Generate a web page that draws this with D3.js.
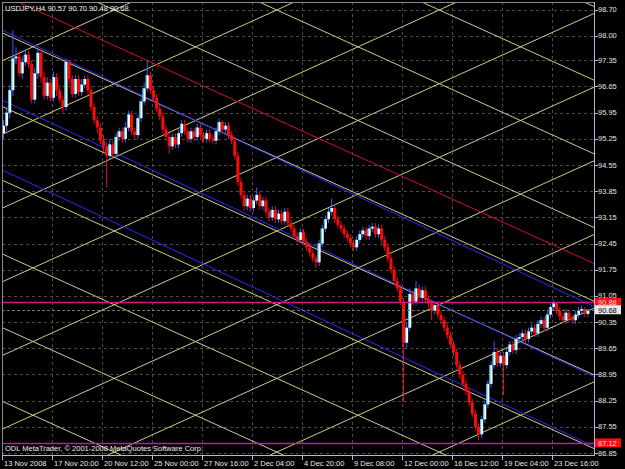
<!DOCTYPE html>
<html>
<head>
<meta charset="utf-8">
<script src="https://d3js.org/d3.v7.min.js"></script>
<style>
body { margin: 0; background: #000; }
svg { display: block; }
text { font-family: Tahoma, 'Liberation Sans', Arial, sans-serif; font-size: 7.5px; }
</style>
</head>
<body>
<div id="chart"></div>
<script>
var width = 625,
	height = 469;

// USDJPY H4 bars, bar 0 = 13 Nov 2008
var open = [95.40,95.60,95.95,96.55,97.40,97.45,97.00,97.30,97.50,97.25,
	96.30,97.00,97.55,96.90,96.40,96.75,96.35,96.90,96.55,96.30,
	96.10,97.30,96.85,96.45,96.85,96.50,96.70,96.85,96.55,96.10,
	95.75,95.55,95.20,95.05,94.80,95.10,94.85,95.30,95.45,95.25,
	95.55,95.90,95.45,95.35,95.80,96.25,96.60,96.95,96.55,96.35,
	96.05,95.85,95.50,95.30,95.05,95.30,95.10,95.40,95.65,95.45,
	95.25,95.45,95.30,95.55,95.35,95.25,95.40,95.25,95.20,95.45,
	95.70,95.50,95.60,95.35,95.20,94.80,94.10,93.75,93.45,93.65,
	93.40,93.60,93.75,93.45,93.60,93.30,93.15,93.35,93.10,93.25,
	93.05,93.30,93.00,92.85,92.65,92.55,92.75,92.50,92.35,92.20,
	92.05,91.95,92.45,92.85,93.10,93.30,93.40,93.10,92.95,92.85,
	92.70,92.60,92.45,92.35,92.55,92.70,92.80,92.65,92.85,92.90,
	92.70,92.85,92.55,92.35,92.05,91.75,91.45,91.25,90.90,89.80,
	90.20,91.10,90.90,91.25,91.00,91.20,90.95,90.85,90.65,90.80,
	90.55,90.40,90.20,90.00,89.75,89.55,89.20,88.95,88.70,88.50,
	88.20,87.90,87.55,87.35,87.75,88.15,88.70,89.20,89.55,89.25,
	89.45,89.20,89.55,89.75,89.60,89.90,89.95,90.05,89.90,90.10,
	90.20,90.05,90.30,90.40,90.20,90.55,90.75,90.85,90.65,90.50,
	90.40,90.60,90.45,90.40,90.55,90.65,90.70,90.57];

var high = [95.75,96.10,96.70,98.15,97.70,97.60,97.45,97.65,97.60,97.35,
	97.15,97.70,97.65,97.05,96.90,96.85,97.05,97.00,96.70,96.40,
	97.40,97.35,96.95,96.95,96.95,96.85,96.95,96.95,96.65,96.20,
	95.85,95.65,95.35,95.15,95.25,95.20,95.40,95.55,95.55,95.70,
	96.00,96.00,95.55,95.90,96.35,96.75,97.35,97.05,96.65,96.45,
	96.15,95.95,95.60,95.40,95.40,95.40,95.50,95.75,95.75,95.55,
	95.55,95.55,95.65,95.65,95.45,95.50,95.50,95.35,95.55,95.80,
	95.75,95.70,95.70,95.45,95.30,94.90,94.20,93.85,93.75,93.75,
	93.70,93.95,93.85,93.70,93.70,93.40,93.45,93.45,93.35,93.35,
	93.40,93.40,93.10,92.95,92.75,92.85,92.85,92.60,92.45,92.30,
	92.15,92.55,92.95,93.20,93.40,93.65,93.50,93.20,93.05,92.95,
	92.80,92.70,92.55,92.65,92.80,92.90,92.90,92.95,93.00,93.00,
	92.95,92.95,92.65,92.45,92.15,91.85,91.55,91.35,91.00,90.35,
	91.25,91.20,91.45,91.35,91.30,91.30,91.05,90.95,90.90,90.90,
	90.65,90.50,90.30,90.10,89.85,89.65,89.30,89.05,88.80,88.60,
	88.30,88.00,87.65,87.85,88.25,88.80,89.30,89.85,89.65,89.55,
	89.55,89.65,89.85,89.85,90.00,90.05,90.15,90.15,90.20,90.30,
	90.30,90.40,90.50,90.50,90.65,90.85,90.95,90.90,90.75,90.60,
	90.70,90.65,90.55,90.65,90.75,90.80,90.75,90.70];

var low = [95.25,95.45,95.80,96.40,97.25,96.90,96.85,97.20,97.15,96.20,
	96.20,96.85,96.75,96.30,96.30,96.25,96.25,96.40,96.20,95.95,
	96.00,96.70,96.35,96.35,96.40,96.40,96.60,96.45,96.00,95.65,
	95.40,95.10,94.90,93.95,94.70,94.75,94.75,95.20,95.15,95.15,
	95.45,95.35,95.25,95.25,95.70,96.15,96.50,96.45,96.25,95.95,
	95.75,95.40,95.20,94.85,94.95,95.00,95.00,95.30,95.35,95.15,
	95.15,95.20,95.20,95.25,95.15,95.15,95.15,95.10,95.10,95.35,
	95.40,95.40,95.25,95.10,94.70,94.00,93.65,93.35,93.35,93.30,
	93.30,93.50,93.35,93.35,93.20,93.05,93.05,93.00,93.00,92.95,
	92.95,92.90,92.75,92.55,92.45,92.45,92.40,92.25,92.10,91.95,
	91.80,91.85,92.35,92.75,93.00,93.20,93.00,92.85,92.75,92.60,
	92.50,92.35,92.25,92.25,92.45,92.60,92.55,92.55,92.75,92.60,
	92.60,92.45,92.25,91.95,91.65,91.35,91.15,90.80,88.20,89.65,
	90.10,90.80,90.80,90.90,90.90,90.85,90.75,90.40,90.55,90.45,
	90.30,90.10,89.90,89.65,89.45,89.10,88.85,88.60,88.40,88.10,
	87.80,87.45,87.20,87.25,87.65,88.05,88.60,89.10,89.15,89.15,
	88.40,89.10,89.45,89.50,89.50,89.80,89.85,89.80,89.80,90.00,
	89.95,89.95,90.20,90.10,90.10,90.45,90.65,90.55,90.40,90.30,
	90.30,90.35,90.30,90.30,90.45,90.55,90.48,90.48];

var close = [95.60,95.95,96.55,97.40,97.45,97.00,97.30,97.50,97.25,96.30,
	97.00,97.55,96.90,96.40,96.75,96.35,96.90,96.55,96.30,96.10,
	97.30,96.85,96.45,96.85,96.50,96.70,96.85,96.55,96.10,95.75,
	95.55,95.20,95.05,94.80,95.10,94.85,95.30,95.45,95.25,95.55,
	95.90,95.45,95.35,95.80,96.25,96.60,96.95,96.55,96.35,96.05,
	95.85,95.50,95.30,95.05,95.30,95.10,95.40,95.65,95.45,95.25,
	95.45,95.30,95.55,95.35,95.25,95.40,95.25,95.20,95.45,95.70,
	95.50,95.60,95.35,95.20,94.80,94.10,93.75,93.45,93.65,93.40,
	93.60,93.75,93.45,93.60,93.30,93.15,93.35,93.10,93.25,93.05,
	93.30,93.00,92.85,92.65,92.55,92.75,92.50,92.35,92.20,92.05,
	91.95,92.45,92.85,93.10,93.30,93.40,93.10,92.95,92.85,92.70,
	92.60,92.45,92.35,92.55,92.70,92.80,92.65,92.85,92.90,92.70,
	92.85,92.55,92.35,92.05,91.75,91.45,91.25,90.90,89.80,90.20,
	91.10,90.90,91.25,91.00,91.20,90.95,90.85,90.65,90.80,90.55,
	90.40,90.20,90.00,89.75,89.55,89.20,88.95,88.70,88.50,88.20,
	87.90,87.55,87.35,87.75,88.15,88.70,89.20,89.55,89.25,89.45,
	89.20,89.55,89.75,89.60,89.90,89.95,90.05,89.90,90.10,90.20,
	90.05,90.30,90.40,90.20,90.55,90.75,90.85,90.65,90.50,90.40,
	90.60,90.45,90.40,90.55,90.65,90.70,90.57,90.68];

var priceTicks = [86.85, 87.55, 88.25, 88.95, 89.65, 90.35, 91.05, 91.75, 92.45,
	93.15, 93.85, 94.55, 95.25, 95.95, 96.65, 97.35, 98.00, 98.70];
var timeTickBars = [0, 16, 32, 48, 64, 80, 96, 112, 128, 144, 160, 176];
var timeTickLabels = ['13 Nov 2008', '17 Nov 20:00', '20 Nov 12:00', '25 Nov 00:00',
	'27 Nov 16:00', '2 Dec 04:00', '4 Dec 20:00', '9 Dec 08:00', '12 Dec 00:00',
	'16 Dec 12:00', '19 Dec 04:00', '23 Dec 16:00'];

var title = 'USDJPY,H4  90.57 90.70 90.48 90.68';
var copyright = 'ODL MetaTrader, \u00A9 2001-2008 MetaQuotes Software Corp.';

// trend objects: [bar1, price1, bar2, price2]
var channelLines = [[0, 98.14, 187, 90.84], [0, 96.27, 187, 88.97], [0, 94.40, 187, 87.10]];
var redLine = [0, 99.09, 187, 91.99];
// gann grid: anchor [bar, price], box [bars, price]
var gannAnchor = [9.44, 97.71];
var gannBox = [26, 0.985];
var levelLines = [90.88, 87.12];
var bidPrice = 90.68;

var plot = {left: 2, top: 2, right: 594, bottom: 455};

var x = d3.scaleLinear().domain([0, 187]).range([3.5, 587.9]);
var y = d3.scaleLinear().domain([86.85, 98.70]).range([453, 9.8]);

var svg = d3.select('#chart').append('svg')
	.attr('width', width)
	.attr('height', height)
	.style('background', '#000');

svg.append('clipPath')
	.attr('id', 'plotclip')
	.append('rect')
	.attr('x', plot.left)
	.attr('y', plot.top)
	.attr('width', plot.right - plot.left)
	.attr('height', plot.bottom - plot.top);

// grid
var grid = svg.append('g').attr('clip-path', 'url(#plotclip)');
grid.selectAll('line.hgrid')
	.data(priceTicks)
	.enter()
	.append('line')
	.attr('x1', plot.left)
	.attr('x2', plot.right)
	.attr('y1', d => Math.round(y(d)) + 0.5)
	.attr('y2', d => Math.round(y(d)) + 0.5)
	.style('stroke', '#4c4c44')
	.style('stroke-dasharray', '3,3');

grid.selectAll('line.vgrid')
	.data(timeTickBars)
	.enter()
	.append('line')
	.attr('x1', d => Math.round(x(d) - 1.5) + 0.5)
	.attr('x2', d => Math.round(x(d) - 1.5) + 0.5)
	.attr('y1', plot.top)
	.attr('y2', plot.bottom)
	.style('stroke', '#4c4c44')
	.style('stroke-dasharray', '3,3');

var objects = svg.append('g').attr('clip-path', 'url(#plotclip)');

// gann grid lines
var gannSlope = gannBox[1] / gannBox[0];
var gannLines = [];
d3.range(-10, 11).forEach(function(k) {
	var p0 = gannAnchor[1] + 2 * gannBox[1] * k;
	gannLines.push([-20, p0 - (-20 - gannAnchor[0]) * gannSlope, 210, p0 - (210 - gannAnchor[0]) * gannSlope]);
	gannLines.push([-20, p0 + (-20 - gannAnchor[0]) * gannSlope, 210, p0 + (210 - gannAnchor[0]) * gannSlope]);
});

objects.selectAll('line.gann')
	.data(gannLines)
	.enter()
	.append('line')
	.attr('x1', d => x(d[0]))
	.attr('y1', d => y(d[1]))
	.attr('x2', d => x(d[2]))
	.attr('y2', d => y(d[3]))
	.style('stroke', '#cdcd86')
	.style('stroke-width', 1);

function extend(l) {
	var s = (l[3] - l[1]) / (l[2] - l[0]);
	return [-10, l[1] + s * (-10 - l[0]), 200, l[1] + s * (200 - l[0])];
}

objects.selectAll('line.channel')
	.data(channelLines.map(extend))
	.enter()
	.append('line')
	.attr('x1', d => x(d[0]))
	.attr('y1', d => y(d[1]))
	.attr('x2', d => x(d[2]))
	.attr('y2', d => y(d[3]))
	.style('stroke', '#2a2aff')
	.style('stroke-width', 1);

var rl = extend(redLine);
objects.append('line')
	.attr('x1', x(rl[0]))
	.attr('y1', y(rl[1]))
	.attr('x2', x(rl[2]))
	.attr('y2', y(rl[3]))
	.style('stroke', '#d4102a')
	.style('stroke-width', 1);

// candles
var bars = d3.range(close.length);
var candles = objects.append('g');

candles.selectAll('line.wick')
	.data(bars)
	.enter()
	.append('line')
	.attr('x1', i => x(i))
	.attr('x2', i => x(i))
	.attr('y1', i => y(high[i]))
	.attr('y2', i => y(low[i]))
	.style('stroke', i => close[i] >= open[i] ? '#3c5cff' : '#e0102c')
	.style('stroke-width', 1);

candles.selectAll('rect.body')
	.data(bars)
	.enter()
	.append('rect')
	.attr('x', i => x(i) - 1.5)
	.attr('width', 3)
	.attr('y', i => y(Math.max(open[i], close[i])))
	.attr('height', i => Math.max(1, Math.abs(y(open[i]) - y(close[i]))))
	.style('fill', i => close[i] >= open[i] ? '#ffffff' : '#ff0a0a');

candles.selectAll('rect.edge')
	.data(bars.filter(i => close[i] >= open[i]))
	.enter()
	.append('rect')
	.attr('x', i => x(i) - 1.5)
	.attr('width', 1)
	.attr('y', i => y(Math.max(open[i], close[i])))
	.attr('height', i => Math.max(1, Math.abs(y(open[i]) - y(close[i]))))
	.style('fill', '#22c8f4');

// horizontal levels
objects.selectAll('line.level')
	.data(levelLines)
	.enter()
	.append('line')
	.attr('x1', plot.left)
	.attr('x2', plot.right)
	.attr('y1', d => Math.round(y(d)) + 0.5)
	.attr('y2', d => Math.round(y(d)) + 0.5)
	.style('stroke', '#b41cb4')
	.style('stroke-width', 1.5);

objects.selectAll('line.leveldots')
	.data(levelLines)
	.enter()
	.append('line')
	.attr('x1', plot.left)
	.attr('x2', plot.right)
	.attr('y1', d => Math.round(y(d)) + 0.5)
	.attr('y2', d => Math.round(y(d)) + 0.5)
	.style('stroke', '#ff1a1a')
	.style('stroke-dasharray', '1,2');

objects.append('line')
	.attr('x1', plot.left)
	.attr('x2', plot.right)
	.attr('y1', Math.round(y(bidPrice)) + 0.5)
	.attr('y2', Math.round(y(bidPrice)) + 0.5)
	.style('stroke', '#7d7458')
	.style('stroke-dasharray', '3,2');

// frame and axes
svg.append('line')
	.attr('x1', plot.left).attr('x2', plot.right)
	.attr('y1', plot.top + 0.5).attr('y2', plot.top + 0.5)
	.style('stroke', '#8a8a8a');
svg.append('line')
	.attr('x1', plot.left + 0.5).attr('x2', plot.left + 0.5)
	.attr('y1', plot.top).attr('y2', plot.bottom)
	.style('stroke', '#8a8a8a');
svg.append('line')
	.attr('x1', plot.right + 0.5).attr('x2', plot.right + 0.5)
	.attr('y1', plot.top).attr('y2', plot.bottom)
	.style('stroke', '#b4b8d8');
svg.append('line')
	.attr('x1', plot.left).attr('x2', plot.right + 1)
	.attr('y1', plot.bottom + 0.5).attr('y2', plot.bottom + 0.5)
	.style('stroke', '#b4b8d8');

svg.selectAll('line.ptick')
	.data(priceTicks)
	.enter()
	.append('line')
	.attr('x1', plot.right)
	.attr('x2', plot.right + 4)
	.attr('y1', d => Math.round(y(d)) + 0.5)
	.attr('y2', d => Math.round(y(d)) + 0.5)
	.style('stroke', '#b4b8d8');

svg.selectAll('text.plabel')
	.data(priceTicks)
	.enter()
	.append('text')
	.attr('x', plot.right + 4)
	.attr('y', d => y(d) + 2.5)
	.style('fill', '#e6e6e6')
	.text(d => d.toFixed(2));

svg.selectAll('line.ttick')
	.data(timeTickBars)
	.enter()
	.append('line')
	.attr('x1', d => Math.round(x(d) - 1.5) + 0.5)
	.attr('x2', d => Math.round(x(d) - 1.5) + 0.5)
	.attr('y1', plot.bottom)
	.attr('y2', plot.bottom + 5)
	.style('stroke', '#b4b8d8');

svg.selectAll('text.tlabel')
	.data(timeTickBars)
	.enter()
	.append('text')
	.attr('x', d => Math.round(x(d) - 1.5) + 2)
	.attr('y', plot.bottom + 11)
	.style('fill', '#e6e6e6')
	.text((d, i) => timeTickLabels[i]);

// price labels for levels and bid
var tags = [
	{price: levelLines[0], fill: '#ff1010', color: '#ffd8d8'},
	{price: bidPrice, fill: '#e8e8e8', color: '#000000'},
	{price: levelLines[1], fill: '#ff1010', color: '#ffd8d8'}
];
var tagG = svg.selectAll('g.tag')
	.data(tags)
	.enter()
	.append('g');
tagG.append('rect')
	.attr('x', plot.right + 1)
	.attr('y', d => y(d.price) - 4.5)
	.attr('width', 26)
	.attr('height', 9)
	.style('fill', d => d.fill);
tagG.append('text')
	.attr('x', plot.right + 4)
	.attr('y', d => y(d.price) + 3)
	.style('fill', d => d.color)
	.text(d => d.price.toFixed(2));

svg.append('text')
	.attr('x', 5)
	.attr('y', 11)
	.style('fill', '#f0f0f0')
	.text(title);

svg.append('text')
	.attr('x', 5)
	.attr('y', 451)
	.style('fill', '#f0f0f0')
	.text(copyright);
</script>
</body>
</html>
